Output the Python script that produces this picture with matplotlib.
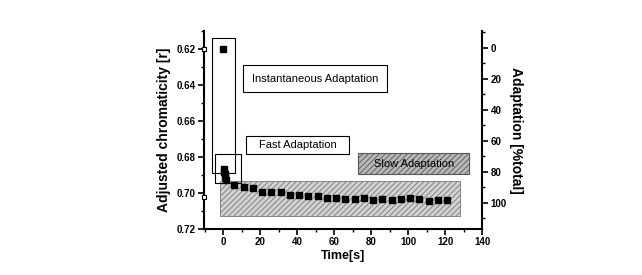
import matplotlib
matplotlib.use('Agg')
import matplotlib.pyplot as plt
import matplotlib.ticker as mticker
from matplotlib.patches import Rectangle

plt.rcParams['font.family'] = ['Liberation Sans', 'DejaVu Sans']
plt.rcParams['hatch.color'] = '#8a8a8a'
plt.rcParams['hatch.linewidth'] = 0.6

# measured chromaticity r vs time
time_s = [0, 0.2, 0.5, 0.8, 1.1, 1.4, 6, 11, 16, 21, 26, 31, 36, 41, 46, 51, 56,
          61, 66, 71, 76, 81, 86, 91, 96, 101, 106, 111, 116, 121]
chroma = [0.620, 0.6865, 0.6880, 0.6895, 0.6910, 0.6928, 0.6952, 0.6967, 0.6970,
          0.6996, 0.6991, 0.6995, 0.7011, 0.7011, 0.7017, 0.7017, 0.7026, 0.7026,
          0.7034, 0.7034, 0.7028, 0.7037, 0.7035, 0.7037, 0.7035, 0.7028, 0.7034,
          0.7041, 0.7039, 0.7039]
ref_marks = [0.620, 0.702]

left_ticks = [0.62, 0.64, 0.66, 0.68, 0.70, 0.72]
right_ticks = [0, 20, 40, 60, 80, 100]
x_ticks = [0, 20, 40, 60, 80, 100, 120, 140]

fig = plt.figure(figsize=(6.42, 2.75), dpi=100)
ax = fig.add_axes([0.318, 0.167, 0.433, 0.720])
ax2 = ax.twinx()

ax.set_xlim(-10.4, 140)
ax.set_ylim(0.72, 0.6098)
ax2.set_ylim(116.9, -10.8)

# region boxes
ax.add_patch(Rectangle((-1.8, 0.6933), 129.7, 0.0192, facecolor='#d2d2d2',
                       edgecolor='#777777', hatch='//////', lw=0.6, zorder=1))
ax.add_patch(Rectangle((-5.9, 0.6137), 12.4, 0.0752, facecolor='none',
                       edgecolor='black', lw=0.8, zorder=2))
ax.add_patch(Rectangle((-4.3, 0.6783), 14.0, 0.0161, facecolor='none',
                       edgecolor='black', lw=0.8, zorder=2))

ax.add_patch(Rectangle((10.6, 0.6288), 78.1, 0.0150, facecolor='white',
                       edgecolor='black', lw=0.8, zorder=2))
ax.text(49.6, 0.6363, 'Instantaneous Adaptation', ha='center', va='center',
        fontsize=8, zorder=3)
ax.add_patch(Rectangle((12.2, 0.6680), 56.0, 0.0103, facecolor='white',
                       edgecolor='black', lw=0.8, zorder=2))
ax.text(40.2, 0.6731, 'Fast Adaptation', ha='center', va='center',
        fontsize=8, zorder=3)
ax.add_patch(Rectangle((73.1, 0.6777), 59.8, 0.0118, facecolor='#b8b8b8',
                       edgecolor='#555555', hatch='//////', lw=0.8, zorder=2))
ax.text(103.0, 0.6836, 'Slow Adaptation', ha='center', va='center',
        fontsize=8, zorder=3)

ax.plot(time_s, chroma, 's', color='black', markersize=4.2, zorder=4)
ax.plot([-10.4] * len(ref_marks), ref_marks, 's', mfc='white', mec='black',
        markersize=3.5, mew=0.8, clip_on=False, zorder=5)

for a in (ax, ax2):
    a.spines['top'].set_visible(False)
ax.spines['right'].set_visible(False)
ax2.spines['left'].set_visible(False)
ax2.spines['bottom'].set_visible(False)
for s in ('left', 'bottom'):
    ax.spines[s].set_linewidth(1.5)
ax2.spines['right'].set_linewidth(1.5)

ax.set_xticks(x_ticks)
ax.xaxis.set_minor_locator(mticker.MultipleLocator(10))
ax.set_yticks(left_ticks)
ax.yaxis.set_major_formatter(mticker.FormatStrFormatter('%.2f'))
ax.yaxis.set_minor_locator(mticker.MultipleLocator(0.01))
ax2.set_yticks(right_ticks)
ax2.yaxis.set_minor_locator(mticker.MultipleLocator(10))

for a in (ax, ax2):
    a.tick_params(which='major', direction='out', length=4, width=1.2,
                  labelsize=7, pad=2)
    a.tick_params(which='minor', direction='out', length=2.5, width=1.0)
    for lbl in a.get_xticklabels() + a.get_yticklabels():
        lbl.set_fontweight('bold')

ax.set_xlabel('Time[s]', fontsize=9, fontweight='bold', labelpad=2)
ax.set_ylabel('Adjusted chromaticity [r]', fontsize=10, fontweight='bold',
              labelpad=4)
ax2.set_ylabel('Adaptation [%total]', fontsize=10, fontweight='bold',
               rotation=-90, labelpad=12)

fig.savefig('out.png', dpi=100)
